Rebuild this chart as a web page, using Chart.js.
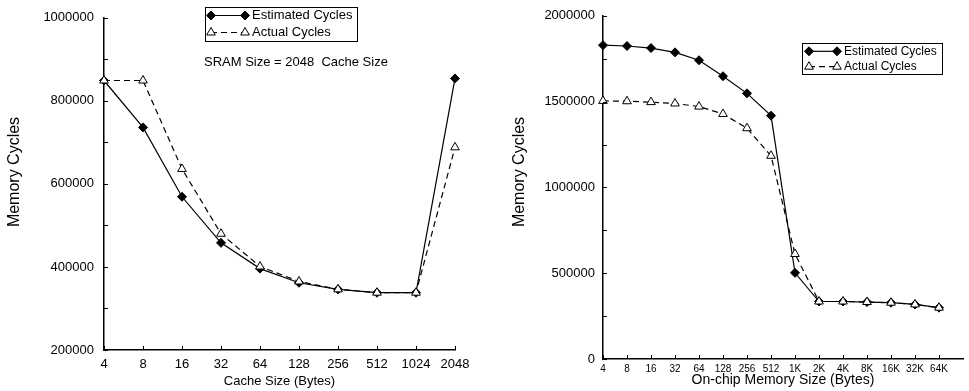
<!DOCTYPE html>
<html>
<head>
<meta charset="utf-8">
<script src="https://cdn.jsdelivr.net/npm/chart.js@4/dist/chart.umd.min.js"></script>
<style>
    body { margin: 0; background: #fff; }
    #leftBox { position: absolute; left: 0; top: 0; width: 485px; height: 391px; }
    #rightBox { position: absolute; left: 485px; top: 0; width: 484px; height: 391px; }
</style>
</head>
<body>
<div id="leftBox"><canvas id="cacheChart"></canvas></div>
<div id="rightBox"><canvas id="memChart"></canvas></div>
<script>
    // left chart: SRAM = 2048, varying cache size
    var cacheSizes = ['4', '8', '16', '32', '64', '128', '256', '512', '1024', '2048'];
    var cacheEstimated = [849000, 736000, 569000, 458000, 396000, 362000, 346000, 338000, 338000, 854000];
    var cacheActual = [849000, 849000, 636000, 480000, 401000, 365000, 346000, 338000, 338000, 688000];
    var cacheYLabels = [200000, 400000, 600000, 800000, 1000000];

    // right chart: on-chip memory size
    var memSizes = ['4', '8', '16', '32', '64', '128', '256', '512', '1K', '2K', '4K', '8K', '16K', '32K', '64K'];
    var memEstimated = [1829000, 1824000, 1812000, 1787000, 1741000, 1648000, 1548000, 1418000, 502000, 335000, 335000, 332000, 328000, 318000, 299000];
    var memActual = [1504000, 1502000, 1497000, 1489000, 1471000, 1428000, 1345000, 1184000, 612000, 335000, 335000, 332000, 328000, 318000, 299000];
    var memYLabels = [0, 500000, 1000000, 1500000, 2000000];

    var FONT = '"Liberation Sans", Arial, sans-serif';
    Chart.defaults.font.family = FONT;
    Chart.defaults.color = '#000';

    // ticks drawn pointing into the plot
    var innerTicks = {
        id: 'innerTicks',
        afterDatasetsDraw: function (chart) {
            var ctx = chart.ctx, area = chart.chartArea;
            var xs = chart.scales.x, ys = chart.scales.y;
            ctx.save();
            ctx.strokeStyle = '#000';
            ctx.lineWidth = 1;
            ctx.beginPath();
            xs.ticks.forEach(function (t) {
                if (t.label === '') return;
                var px = Math.round(xs.getPixelForValue(t.value)) + 0.5;
                ctx.moveTo(px, area.bottom);
                ctx.lineTo(px, area.bottom - 4);
            });
            ys.ticks.forEach(function (t) {
                var py = Math.round(ys.getPixelForValue(t.value)) + 0.5;
                ctx.moveTo(area.left, py);
                ctx.lineTo(area.left + 4, py);
            });
            ctx.stroke();
            ctx.restore();
        }
    };

    // boxed legend with a marker at each end of the line sample
    var boxLegend = {
        id: 'boxLegend',
        afterDraw: function (chart, args, opts) {
            var ctx = chart.ctx;
            ctx.save();
            ctx.lineWidth = 1;
            ctx.strokeStyle = '#000';
            ctx.strokeRect(opts.x + 0.5, opts.y + 0.5, opts.w, opts.h);
            ctx.font = opts.size + 'px ' + FONT;
            ctx.textBaseline = 'middle';
            chart.data.datasets.forEach(function (ds, i) {
                var y = opts.rows[i];
                ctx.save();
                ctx.strokeStyle = ds.borderColor;
                ctx.lineWidth = ds.borderWidth;
                ctx.setLineDash(ds.borderDash || []);
                ctx.beginPath();
                ctx.moveTo(opts.x1, y);
                ctx.lineTo(opts.x2, y);
                ctx.stroke();
                ctx.restore();
                ctx.fillStyle = ds.pointBackgroundColor;
                ctx.strokeStyle = ds.pointBorderColor;
                ctx.lineWidth = ds.pointBorderWidth;
                var p = { pointStyle: ds.pointStyle, radius: ds.pointRadius, rotation: 0, borderWidth: ds.pointBorderWidth };
                Chart.helpers.drawPoint(ctx, p, opts.x1, y);
                Chart.helpers.drawPoint(ctx, p, opts.x2, y);
                ctx.fillStyle = '#000';
                ctx.fillText(ds.label, opts.tx, y);
            });
            ctx.restore();
        }
    };

    // free text: y titles and the note
    var notes = {
        id: 'notes',
        afterDraw: function (chart, args, opts) {
            var ctx = chart.ctx;
            opts.items.forEach(function (it) {
                ctx.save();
                ctx.fillStyle = '#000';
                ctx.font = it.size + 'px ' + FONT;
                ctx.textBaseline = 'middle';
                ctx.textAlign = it.align;
                ctx.translate(it.x, it.y);
                if (it.rotate) ctx.rotate(-Math.PI / 2);
                ctx.fillText(it.text, 0, 0);
                ctx.restore();
            });
        }
    };

    function estimatedSet(data) {
        return {
            label: 'Estimated Cycles',
            data: data,
            borderColor: '#000',
            borderWidth: 1.2,
            pointStyle: 'rectRot',
            pointRadius: 4.5,
            pointBackgroundColor: '#000',
            pointBorderColor: '#000',
            pointBorderWidth: 1,
            tension: 0,
            clip: false,
            order: 1
        };
    }

    function actualSet(data) {
        return {
            label: 'Actual Cycles',
            data: data,
            borderColor: '#000',
            borderWidth: 1.2,
            borderDash: [6, 4],
            pointStyle: 'triangle',
            pointRadius: 5,
            pointBackgroundColor: '#fff',
            pointBorderColor: '#000',
            pointBorderWidth: 1,
            tension: 0,
            clip: false,
            order: 0
        };
    }

    var ctxLeft = document.getElementById('cacheChart').getContext('2d');
    var cacheChart = new Chart(ctxLeft, {
        type: 'line',
        data: {
            labels: cacheSizes,
            datasets: [estimatedSet(cacheEstimated), actualSet(cacheActual)]
        },
        options: {
            animation: false,
            responsive: true,
            maintainAspectRatio: false,
            layout: { padding: { top: 11, right: 30, left: 0, bottom: 0 } },
            scales: {
                x: {
                    type: 'category',
                    offset: false,
                    grid: { display: false, drawTicks: false },
                    border: { display: true, color: '#000', width: 1.5 },
                    ticks: { font: { size: 13 }, padding: 7, autoSkip: false, maxRotation: 0 },
                    title: { display: true, text: 'Cache Size (Bytes)', font: { size: 13 }, padding: { top: 0, bottom: 2 } },
                    afterFit: function (s) { s.height = 41; }
                },
                y: {
                    min: 200000,
                    max: 1000000,
                    grid: { display: false, drawTicks: false },
                    border: { display: true, color: '#000', width: 1.5 },
                    ticks: {
                        stepSize: 100000,
                        font: { size: 13 },
                        padding: 10,
                        autoSkip: false,
                        callback: function (v) { return cacheYLabels.indexOf(v) >= 0 ? String(v) : ''; }
                    },
                    afterFit: function (s) { s.width = 104; }
                }
            },
            plugins: {
                legend: { display: false },
                tooltip: { enabled: false },
                boxLegend: { x: 205, y: 7, w: 152, h: 34, rows: [15.5, 32.5], x1: 211, x2: 245, tx: 252, size: 13 },
                notes: {
                    items: [
                        { text: 'Memory Cycles', x: 15, y: 172, size: 16, align: 'center', rotate: true },
                        { text: 'SRAM Size = 2048  Cache Size', x: 204, y: 62, size: 13, align: 'left', rotate: false }
                    ]
                }
            }
        },
        plugins: [innerTicks, boxLegend, notes]
    });

    var memPoints = function (arr) {
        return arr.map(function (v, i) { return { x: i, y: v }; });
    };

    var ctxRight = document.getElementById('memChart').getContext('2d');
    var memChart = new Chart(ctxRight, {
        type: 'line',
        data: {
            datasets: [estimatedSet(memPoints(memEstimated)), actualSet(memPoints(memActual))]
        },
        options: {
            animation: false,
            responsive: true,
            maintainAspectRatio: false,
            layout: { padding: { top: 11, right: 1, left: 0, bottom: 0 } },
            scales: {
                x: {
                    type: 'linear',
                    min: 0,
                    max: memSizes.length,
                    grid: { display: false, drawTicks: false },
                    border: { display: true, color: '#000', width: 1.5 },
                    ticks: {
                        stepSize: 1,
                        font: { size: 10 },
                        padding: 4,
                        autoSkip: false,
                        maxRotation: 0,
                        callback: function (v) { return memSizes[v] !== undefined ? memSizes[v] : ''; }
                    },
                    title: { display: true, text: 'On-chip Memory Size (Bytes)', font: { size: 14 }, padding: { top: 0, bottom: 2 } },
                    afterFit: function (s) { s.height = 32; }
                },
                y: {
                    min: 0,
                    max: 2000000,
                    grid: { display: false, drawTicks: false },
                    border: { display: true, color: '#000', width: 1.5 },
                    ticks: {
                        stepSize: 250000,
                        font: { size: 13 },
                        padding: 8,
                        autoSkip: false,
                        callback: function (v) { return memYLabels.indexOf(v) >= 0 ? String(v) : ''; }
                    },
                    afterFit: function (s) { s.width = 118; }
                }
            },
            plugins: {
                legend: { display: false },
                tooltip: { enabled: false },
                boxLegend: { x: 317, y: 43, w: 140, h: 31, rows: [51.3, 66.7], x1: 324, x2: 352, tx: 359, size: 12 },
                notes: {
                    items: [
                        { text: 'Memory Cycles', x: 35, y: 172, size: 16, align: 'center', rotate: true }
                    ]
                }
            }
        },
        plugins: [innerTicks, boxLegend, notes]
    });
</script>
</body>
</html>
